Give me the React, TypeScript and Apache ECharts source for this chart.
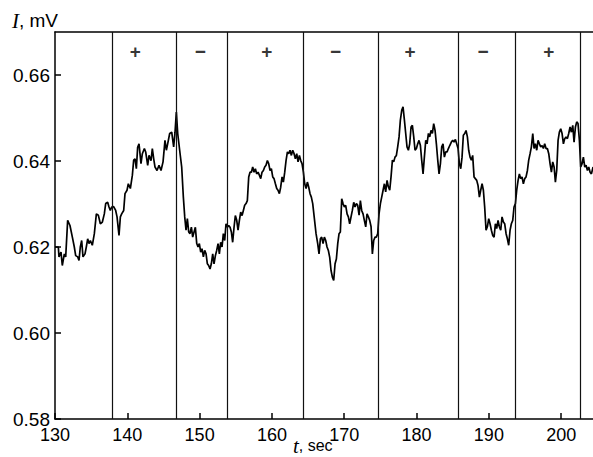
import React, { useEffect, useRef } from 'react';
import * as echarts from 'echarts';

// time, sec
const times = [
  130.00, 130.46, 130.55, 130.83, 131.01, 131.29, 131.48, 131.75, 132.07, 132.40,
  132.67, 132.86, 133.14, 133.32, 133.50, 133.69, 133.87, 134.15, 134.33, 134.52,
  134.70, 134.89, 135.16, 135.44, 135.72, 135.99, 136.27, 136.55, 136.82, 137.01,
  137.28, 137.47, 137.65, 137.84, 138.11, 138.39, 138.58, 138.85, 139.04, 139.22,
  139.50, 139.68, 139.96, 140.14, 140.42, 140.70, 140.88, 141.07, 141.25, 141.43,
  141.62, 141.89, 142.08, 142.36, 142.54, 142.82, 143.00, 143.28, 143.46, 143.65,
  143.83, 144.11, 144.38, 144.66, 144.94, 145.21, 145.40, 145.58, 145.86, 146.14,
  146.41, 146.60, 146.78, 146.97, 147.24,
  147.52, 147.75, 147.94, 148.12, 148.30, 148.49, 148.67, 148.86, 149.04, 149.23,
  149.41, 149.60, 149.78, 149.96, 150.15, 150.33, 150.52, 150.70, 150.89, 151.07,
  151.25, 151.44, 151.62, 151.81, 151.99, 152.18, 152.36, 152.55, 152.73, 152.91,
  153.10, 153.28, 153.47, 153.65, 153.84, 154.02, 154.21, 154.39, 154.57, 154.76,
  154.94, 155.13, 155.31, 155.50, 155.68, 155.87, 156.05, 156.23, 156.42, 156.60,
  156.79, 156.97, 157.16, 157.34, 157.53, 157.71, 157.89, 158.08, 158.26, 158.45,
  158.63, 158.82, 159.00, 159.18, 159.37, 159.55, 159.74, 159.92, 160.11, 160.29,
  160.48, 160.66, 160.84, 161.03, 161.21, 161.40, 161.58, 161.77, 161.95, 162.14,
  162.32, 162.50, 162.69, 162.87, 163.06, 163.24, 163.43, 163.61, 163.80, 163.98,
  164.16, 164.35, 164.53, 164.72, 164.90, 165.09, 165.27, 165.45, 165.64,
  166.10, 166.33, 166.51, 166.70, 166.88, 167.07, 167.25, 167.44, 167.62, 167.80,
  167.99, 168.17, 168.36, 168.54, 168.73, 168.91, 169.10, 169.28, 169.46, 169.65,
  169.83, 170.02, 170.20, 170.39, 170.57, 170.75, 170.94, 171.12, 171.31, 171.49,
  171.68, 171.86, 172.05, 172.23, 172.41, 172.60, 172.78, 172.97, 173.15, 173.34,
  173.52, 173.71, 173.89, 174.07, 174.26, 174.44, 174.63, 174.81, 175.00, 175.18,
  175.37, 175.55, 175.73, 175.92, 176.10, 176.29, 176.47, 176.66, 176.84, 177.02,
  177.21, 177.39, 177.58, 177.76, 177.95, 178.13, 178.32, 178.50, 178.68, 178.87,
  179.05, 179.24, 179.42, 179.61, 179.79, 179.98, 180.16, 180.34, 180.53, 180.71,
  180.90, 181.08, 181.27, 181.45, 181.64, 181.82, 182.00, 182.19, 182.37, 182.56,
  182.74, 182.93, 183.11, 183.30, 183.48, 183.66, 183.85, 184.03, 184.22, 184.40,
  184.59,
  184.81, 185.00, 185.18, 185.37, 185.55, 185.74, 185.92, 186.11, 186.29, 186.47,
  186.66, 186.84, 187.03, 187.21, 187.40, 187.58, 187.76, 187.95, 188.13, 188.32,
  188.50, 188.69, 188.87, 189.06, 189.24, 189.42, 189.61, 189.79, 189.98, 190.16,
  190.35, 190.53, 190.72, 190.90, 191.08, 191.27, 191.45, 191.64, 191.82, 192.01,
  192.19, 192.38, 192.56, 192.74, 192.93, 193.11, 193.30, 193.48, 193.67, 193.85,
  194.04, 194.22, 194.40, 194.59, 194.77, 194.96, 195.14, 195.33, 195.51, 195.70,
  195.88, 196.07, 196.25, 196.43, 196.62, 196.80, 196.99, 197.17, 197.36, 197.54,
  197.72, 197.91, 198.09, 198.28, 198.46, 198.65, 198.83, 199.02, 199.20, 199.38,
  199.57, 199.75, 199.94, 200.12, 200.31, 200.49, 200.67, 200.86, 201.04, 201.23,
  201.41, 201.60, 201.78, 201.97, 202.15, 202.33, 202.52, 202.70, 202.89, 203.07,
  203.26, 203.44, 203.63, 203.81, 204.00, 204.18, 204.41,
];

// I, mV
const current = [
  0.6200, 0.6200, 0.6177, 0.6188, 0.6157, 0.6184, 0.6177, 0.6262, 0.6250, 0.6223,
  0.6200, 0.6180, 0.6177, 0.6169, 0.6200, 0.6215, 0.6177, 0.6184, 0.6200, 0.6219,
  0.6208, 0.6215, 0.6204, 0.6231, 0.6277, 0.6274, 0.6254, 0.6258, 0.6277, 0.6301,
  0.6304, 0.6293, 0.6285, 0.6293, 0.6294, 0.6285, 0.6270, 0.6227, 0.6270, 0.6277,
  0.6285, 0.6324, 0.6332, 0.6347, 0.6336, 0.6367, 0.6402, 0.6405, 0.6382, 0.6432,
  0.6440, 0.6394, 0.6417, 0.6429, 0.6421, 0.6390, 0.6413, 0.6401, 0.6429, 0.6405,
  0.6386, 0.6378, 0.6390, 0.6378, 0.6398, 0.6448, 0.6425, 0.6440, 0.6464, 0.6467,
  0.6433, 0.6467, 0.6514, 0.6464, 0.6425,
  0.6386, 0.6316, 0.6270, 0.6239, 0.6266, 0.6235, 0.6231, 0.6246, 0.6223, 0.6235,
  0.6246, 0.6208, 0.6200, 0.6208, 0.6188, 0.6196, 0.6177, 0.6192, 0.6184, 0.6161,
  0.6157, 0.6149, 0.6161, 0.6184, 0.6161, 0.6180, 0.6192, 0.6208, 0.6184, 0.6211,
  0.6200, 0.6231, 0.6215, 0.6254, 0.6246, 0.6250, 0.6246, 0.6235, 0.6211, 0.6246,
  0.6273, 0.6262, 0.6239, 0.6262, 0.6281, 0.6273, 0.6285, 0.6297, 0.6301, 0.6308,
  0.6363, 0.6374, 0.6374, 0.6386, 0.6374, 0.6382, 0.6370, 0.6374, 0.6367, 0.6359,
  0.6374, 0.6378, 0.6386, 0.6390, 0.6401, 0.6394, 0.6378, 0.6382, 0.6363, 0.6359,
  0.6347, 0.6336, 0.6332, 0.6324, 0.6339, 0.6363, 0.6351, 0.6374, 0.6401, 0.6421,
  0.6417, 0.6425, 0.6413, 0.6425, 0.6417, 0.6405, 0.6417, 0.6398, 0.6413, 0.6401,
  0.6394, 0.6374, 0.6347, 0.6336, 0.6351, 0.6339, 0.6324, 0.6316, 0.6301,
  0.6231, 0.6208, 0.6184, 0.6219, 0.6223, 0.6208, 0.6223, 0.6215, 0.6200, 0.6192,
  0.6176, 0.6146, 0.6130, 0.6122, 0.6161, 0.6172, 0.6208, 0.6231, 0.6235, 0.6312,
  0.6301, 0.6293, 0.6297, 0.6277, 0.6270, 0.6254, 0.6270, 0.6285, 0.6304, 0.6293,
  0.6301, 0.6297, 0.6274, 0.6308, 0.6285, 0.6277, 0.6262, 0.6247, 0.6277, 0.6270,
  0.6262, 0.6247, 0.6184, 0.6215, 0.6223, 0.6223, 0.6231, 0.6277, 0.6301, 0.6316,
  0.6332, 0.6347, 0.6328, 0.6355, 0.6340, 0.6332, 0.6363, 0.6402, 0.6398, 0.6409,
  0.6413, 0.6433, 0.6456, 0.6495, 0.6518, 0.6526, 0.6495, 0.6464, 0.6433, 0.6425,
  0.6440, 0.6479, 0.6483, 0.6456, 0.6425, 0.6429, 0.6440, 0.6448, 0.6436, 0.6402,
  0.6370, 0.6409, 0.6448, 0.6440, 0.6464, 0.6456, 0.6471, 0.6464, 0.6487, 0.6471,
  0.6440, 0.6402, 0.6370, 0.6394, 0.6433, 0.6440, 0.6409, 0.6421, 0.6421, 0.6429,
  0.6436,
  0.6444, 0.6448, 0.6444, 0.6450, 0.6440, 0.6429, 0.6394, 0.6382, 0.6409, 0.6460,
  0.6464, 0.6471, 0.6456, 0.6425, 0.6409, 0.6402, 0.6413, 0.6363, 0.6359, 0.6355,
  0.6343, 0.6316, 0.6332, 0.6347, 0.6332, 0.6293, 0.6239, 0.6247, 0.6266, 0.6254,
  0.6239, 0.6227, 0.6223, 0.6254, 0.6243, 0.6262, 0.6247, 0.6239, 0.6270, 0.6258,
  0.6254, 0.6231, 0.6219, 0.6204, 0.6239, 0.6254, 0.6262, 0.6293, 0.6301, 0.6332,
  0.6355, 0.6370, 0.6359, 0.6363, 0.6347, 0.6359, 0.6363, 0.6378, 0.6402, 0.6417,
  0.6433, 0.6464, 0.6429, 0.6440, 0.6425, 0.6448, 0.6440, 0.6433, 0.6436, 0.6429,
  0.6440, 0.6429, 0.6429, 0.6417, 0.6394, 0.6374, 0.6398, 0.6386, 0.6351, 0.6378,
  0.6448, 0.6467, 0.6475, 0.6464, 0.6440, 0.6452, 0.6456, 0.6452, 0.6464, 0.6479,
  0.6467, 0.6483, 0.6444, 0.6479, 0.6491, 0.6487, 0.6448, 0.6386, 0.6394, 0.6409,
  0.6386, 0.6390, 0.6378, 0.6386, 0.6374, 0.6370, 0.6386,
];

// moments when the polarity was switched, sec
const switchTimes = [137.85, 146.8, 153.88, 164.35, 174.77, 185.79, 193.67, 202.62];

// polarity marks between switches
const signTimes = [141.1, 150.1, 159.3, 168.8, 179.1, 189.2, 198.3];
const signLabels = ['+', '\u2212', '+', '\u2212', '+', '\u2212', '+'];

const X_MIN = 130;
const X_MAX = 204.4;
const X_STEP = 10;
const Y_MIN = 0.58;
const Y_MAX = 0.67;
const Y_STEP = 0.02;
const SIGN_LEVEL = 0.6655;

export default function App() {
  const ref = useRef<HTMLDivElement>(null);

  useEffect(() => {
    const el = ref.current;
    if (!el) return;
    const chart = echarts.init(el, null, { renderer: 'svg' });
    const sans = '"Liberation Sans", Arial, Helvetica, sans-serif';
    const serif = '"Liberation Serif", "Times New Roman", Times, serif';
    const axisLine = { show: true, onZero: false, lineStyle: { color: '#000', width: 1.5 } };

    chart.setOption({
      animation: false,
      backgroundColor: '#fff',
      grid: { left: 55, right: 0, top: 32, bottom: 38, containLabel: false },
      xAxis: [
        {
          type: 'value',
          min: X_MIN,
          max: X_MAX,
          interval: X_STEP,
          axisLine,
          axisTick: { show: true, inside: true, length: 6, lineStyle: { color: '#000', width: 1.5 } },
          axisLabel: {
            color: '#000',
            fontSize: 18,
            fontFamily: sans,
            margin: 7,
            showMaxLabel: false,
            formatter: (v: number) => (Math.abs(v - Math.round(v / X_STEP) * X_STEP) < 1e-6 ? String(Math.round(v)) : ''),
          },
          splitLine: { show: false },
        },
        {
          type: 'value',
          position: 'top',
          min: X_MIN,
          max: X_MAX,
          axisLine,
          axisTick: { show: false },
          axisLabel: { show: false },
          splitLine: { show: false },
        },
      ],
      yAxis: {
        type: 'value',
        min: Y_MIN,
        max: Y_MAX,
        interval: Y_STEP,
        axisLine,
        axisTick: { show: true, inside: true, length: 6, lineStyle: { color: '#000', width: 1.5 } },
        axisLabel: {
          color: '#000',
          fontSize: 19,
          fontFamily: sans,
          margin: 5,
          showMaxLabel: false,
          formatter: (v: number) => (Math.abs(v - Y_MAX) < 1e-9 ? '' : v.toFixed(2)),
        },
        splitLine: { show: false },
      },
      series: [
        {
          type: 'line',
          xAxisIndex: 0,
          data: times.map((t, i) => [t, current[i]]),
          showSymbol: false,
          symbol: 'none',
          lineStyle: { color: '#000', width: 1.7 },
          z: 3,
          markLine: {
            silent: true,
            symbol: ['none', 'none'],
            label: { show: false },
            lineStyle: { color: '#111', width: 1.2, type: 'solid' },
            data: switchTimes.map((t) => ({ xAxis: t })),
          },
        },
        {
          type: 'scatter',
          xAxisIndex: 0,
          symbolSize: 0,
          data: signTimes.map((t) => [t, SIGN_LEVEL]),
          label: {
            show: true,
            position: 'inside',
            color: '#000',
            fontSize: 19,
            fontWeight: 'bold',
            fontFamily: sans,
            formatter: (p: any) => signLabels[p.dataIndex],
          },
          z: 4,
        },
      ],
      graphic: [
        {
          type: 'text',
          left: 12,
          top: 10,
          style: {
            text: '{i|I}{n|, mV}',
            rich: {
              i: { fontFamily: serif, fontStyle: 'italic', fontSize: 21, fill: '#000' },
              n: { fontFamily: sans, fontSize: 19, fill: '#000' },
            },
          },
        },
        {
          type: 'text',
          left: 293,
          top: 435,
          style: {
            text: '{i|t}{n|, sec}',
            rich: {
              i: { fontFamily: serif, fontStyle: 'italic', fontSize: 21, fill: '#000' },
              n: { fontFamily: sans, fontSize: 16, fill: '#000' },
            },
          },
        },
      ],
    });

    return () => {
      chart.dispose();
    };
  }, []);

  return (
    <div
      ref={ref}
      style={{ position: 'fixed', left: 0, top: 0, width: 593, height: 457, background: '#fff' }}
    />
  );
}
